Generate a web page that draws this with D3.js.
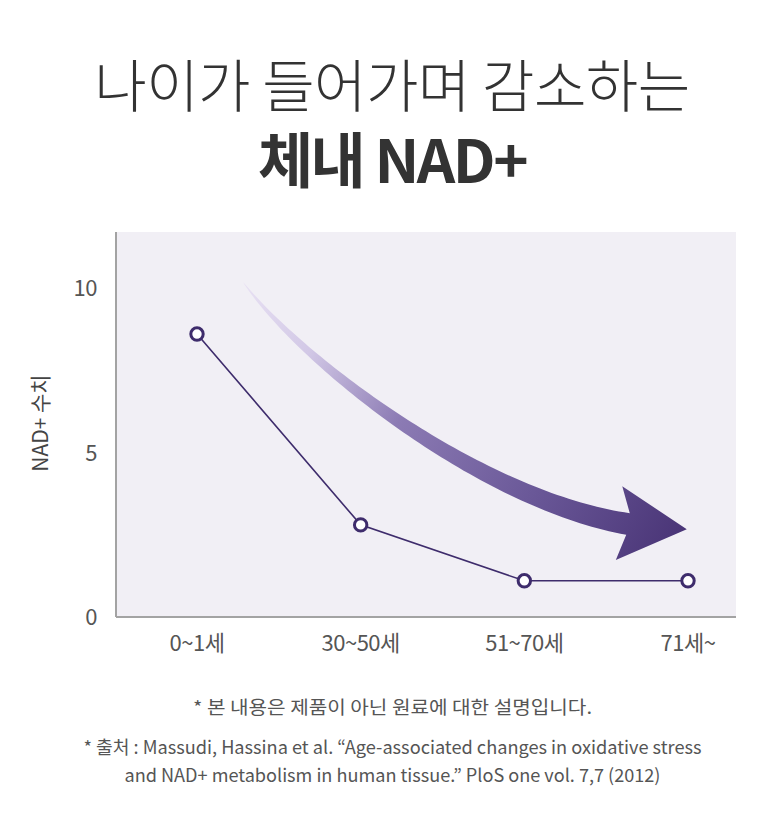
<!DOCTYPE html>
<html>
<head>
<meta charset="utf-8">
<script src="https://cdn.jsdelivr.net/npm/d3@7"></script>
<style>
  html, body { margin: 0; padding: 0; background: #fff; }
  svg { display: block; font-family: "Noto Sans CJK KR", "Noto Sans", sans-serif; }
</style>
</head>
<body>
<svg id="chart" width="784" height="825"></svg>
<script>
// ── data ──
const ageGroups = ['0~1세', '30~50세', '51~70세', '71세~'];
const nadValues = [8.6, 2.8, 1.1, 1.1];
const yTicks = [0, 5, 10];

const W = 784, H = 825;
const PLOT = { left: 116, right: 736, top: 232, bottom: 617 };
const PURPLE = '#3e2c6c';

const svg = d3.select('#chart');

// titles
svg.append('text')
  .attr('x', W / 2).attr('y', 107)
  .attr('text-anchor', 'middle')
  .attr('font-size', 57).attr('font-weight', 300)
  .attr('letter-spacing', -0.5)
  .attr('fill', '#333')
  .text('나이가 들어가며 감소하는');
svg.append('text')
  .attr('x', W / 2).attr('y', 183)
  .attr('text-anchor', 'middle')
  .attr('font-size', 60).attr('font-weight', 700)
  .attr('letter-spacing', -2.5)
  .attr('fill', '#333')
  .text('체내 NAD+');

// scales
const x = d3.scalePoint().domain(ageGroups).range([197, 688]);
const y = d3.scaleLinear().domain([0, 10]).range([PLOT.bottom, 288]);

// plot background
svg.append('rect')
  .attr('x', PLOT.left).attr('y', PLOT.top)
  .attr('width', PLOT.right - PLOT.left).attr('height', PLOT.bottom - PLOT.top)
  .attr('fill', '#f1eff5');

// axes lines
svg.append('line')
  .attr('x1', PLOT.left).attr('x2', PLOT.left)
  .attr('y1', PLOT.top).attr('y2', PLOT.bottom)
  .attr('stroke', '#a3a3a3').attr('stroke-width', 2);
svg.append('line')
  .attr('x1', PLOT.left).attr('x2', PLOT.right)
  .attr('y1', PLOT.bottom).attr('y2', PLOT.bottom)
  .attr('stroke', '#a3a3a3').attr('stroke-width', 2);

// y tick labels
svg.append('g').selectAll('text')
  .data(yTicks).join('text')
  .attr('x', 97).attr('y', d => y(d) + 8)
  .attr('text-anchor', 'end')
  .attr('font-size', 22).attr('fill', '#555')
  .attr('letter-spacing', -0.5)
  .text(d => d);

// x tick labels
svg.append('g').selectAll('text')
  .data(ageGroups).join('text')
  .attr('x', d => x(d)).attr('y', 651)
  .attr('text-anchor', 'middle')
  .attr('font-size', 22).attr('fill', '#555')
  .attr('letter-spacing', -0.5)
  .text(d => d);

// y axis title
svg.append('text')
  .attr('transform', 'translate(48,423) rotate(-90)')
  .attr('text-anchor', 'middle')
  .attr('font-size', 21).attr('fill', '#444')
  .text('NAD+ 수치');

// ── decorative trend arrow ──
const defs = svg.append('defs');
const grad = defs.append('linearGradient')
  .attr('id', 'arrowGrad')
  .attr('gradientUnits', 'userSpaceOnUse')
  .attr('x1', 243).attr('y1', 282).attr('x2', 687).attr('y2', 527);
grad.append('stop').attr('offset', 0).attr('stop-color', '#e8e1f3');
grad.append('stop').attr('offset', 0.18).attr('stop-color', '#d2c8e6');
grad.append('stop').attr('offset', 0.4).attr('stop-color', '#8c7bb4');
grad.append('stop').attr('offset', 0.7).attr('stop-color', '#6a5898');
grad.append('stop').attr('offset', 1).attr('stop-color', '#4a3577');

const P0 = [243, 282], C1 = [300, 360], C2 = [480, 500], P3 = [628, 524];
const bez = t => {
  const a = (1 - t) ** 3, b = 3 * (1 - t) ** 2 * t, c = 3 * (1 - t) * t * t, d = t ** 3;
  return [a * P0[0] + b * C1[0] + c * C2[0] + d * P3[0], a * P0[1] + b * C1[1] + c * C2[1] + d * P3[1]];
};
const tan = t => {
  const a = 3 * (1 - t) ** 2, b = 6 * (1 - t) * t, c = 3 * t * t;
  const dx = a * (C1[0] - P0[0]) + b * (C2[0] - C1[0]) + c * (P3[0] - C2[0]);
  const dy = a * (C1[1] - P0[1]) + b * (C2[1] - C1[1]) + c * (P3[1] - C2[1]);
  const l = Math.hypot(dx, dy);
  return [dx / l, dy / l];
};
const N = 80, upper = [], lower = [];
for (let i = 0; i <= N; i++) {
  const t = i / N;
  const [px, py] = bez(t);
  const [tx, ty] = tan(t);
  const w = 11 * Math.pow(t, 0.8);
  upper.push([px + ty * w, py - tx * w]);
  lower.push([px - ty * w, py + tx * w]);
}
const [ex, ey] = bez(1);
const ang = 5 * Math.PI / 180;
const dx = Math.cos(ang), dy = Math.sin(ang);
const nx = -dy, ny = dx;
const headBack = 9, headHalf = 37, headLen = 59;
const head = [
  [ex - dx * headBack - nx * headHalf, ey - dy * headBack - ny * headHalf],
  [ex + dx * headLen, ey + dy * headLen],
  [ex - dx * headBack + nx * headHalf, ey - dy * headBack + ny * headHalf]
];
const shape = upper.concat([head[0], head[1], head[2]], lower.slice().reverse());
svg.append('path')
  .attr('d', d3.line()(shape) + 'Z')
  .attr('fill', 'url(#arrowGrad)');

// ── data line ──
svg.append('path')
  .datum(nadValues)
  .attr('d', d3.line().x((d, i) => x(ageGroups[i])).y(d => y(d)))
  .attr('fill', 'none')
  .attr('stroke', PURPLE).attr('stroke-width', 1.6);

svg.append('g').selectAll('circle')
  .data(nadValues).join('circle')
  .attr('cx', (d, i) => x(ageGroups[i])).attr('cy', d => y(d))
  .attr('r', 6.2)
  .attr('fill', '#fff')
  .attr('stroke', PURPLE).attr('stroke-width', 3);

// footnotes
const notes = [
  { text: '* 본 내용은 제품이 아닌 원료에 대한 설명입니다.', y: 714, w: 399 },
  { text: '* 출처 : Massudi, Hassina et al. “Age-associated changes in oxidative stress', y: 754, w: 618 },
  { text: 'and NAD+ metabolism in human tissue.” PloS one vol. 7,7 (2012)', y: 782, w: 536 }
];
svg.append('g').selectAll('text')
  .data(notes).join('text')
  .attr('x', W / 2 + 0.5).attr('y', d => d.y)
  .attr('text-anchor', 'middle')
  .attr('font-size', 18).attr('fill', '#555')
  .attr('textLength', d => d.w)
  .attr('lengthAdjust', 'spacingAndGlyphs')
  .text(d => d.text);
</script>
</body>
</html>
